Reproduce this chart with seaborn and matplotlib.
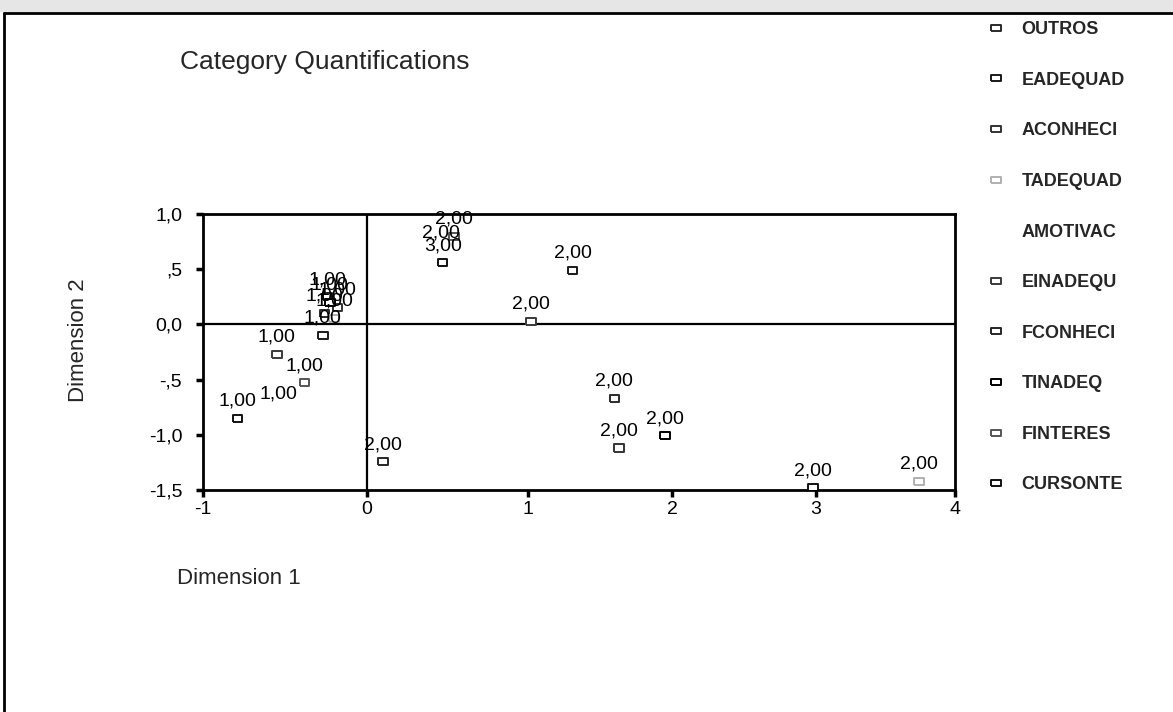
import matplotlib
matplotlib.use("Agg")
import matplotlib.pyplot as plt
import numpy as np
import pandas as pd
import seaborn as sns
from matplotlib.lines import Line2D
from matplotlib.patches import Rectangle

# Variables of the homogeneity analysis, in legend order
variables = ["OUTROS", "EADEQUAD", "ACONHECI", "TADEQUAD", "AMOTIVAC",
             "EINADEQU", "FCONHECI", "TINADEQ", "FINTERES", "CURSONTE"]

# One entry per category point
point_variable = ["OUTROS", "OUTROS",
                  "EADEQUAD", "EADEQUAD",
                  "ACONHECI", "ACONHECI",
                  "TADEQUAD", "TADEQUAD",
                  "AMOTIVAC", "AMOTIVAC",
                  "EINADEQU", "EINADEQU",
                  "FCONHECI", "FCONHECI",
                  "TINADEQ", "TINADEQ",
                  "FINTERES", "FINTERES",
                  "CURSONTE", "CURSONTE", "CURSONTE"]
point_category = [1, 2,
                  1, 2,
                  1, 2,
                  1, 2,
                  1, 2,
                  1, 2,
                  1, 2,
                  1, 2,
                  1, 2,
                  1, 2, 3]
dim1 = [-0.26, 1.60,
        -0.27, 1.31,
        -0.18, 1.63,
        -0.20, 3.74,
        -0.54, 0.46,
        -0.55, 1.02,
        -0.24, 0.10,
        -0.226, 1.95,
        -0.38, 0.54,
        -0.79, 2.98, 0.47]
dim2 = [0.10, -0.67,
        -0.10, 0.49,
        0.155, -1.12,
        0.055, -1.42,
        -0.78, 0.67,
        -0.27, 0.03,
        0.25, -1.245,
        0.20, -1.01,
        -0.53, 0.80,
        -0.85, -1.48, 0.56]

# Axis ticks
x_ticks = [-1, 0, 1, 2, 3, 4]
x_tick_labels = ["-1", "0", "1", "2", "3", "4"]
y_ticks = [1.0, 0.5, 0.0, -0.5, -1.0, -1.5]
y_tick_labels = ["1,0", ",5", "0,0", "-,5", "-1,0", "-1,5"]

# Outline colour of each variable's markers
marker_colors = {
    "OUTROS": "#2a2a2a",
    "EADEQUAD": "#1a1a1a",
    "ACONHECI": "#333333",
    "TADEQUAD": "#b0b0b0",
    "AMOTIVAC": "#ffffff",
    "EINADEQU": "#3a3a3a",
    "FCONHECI": "#262626",
    "TINADEQ": "#000000",
    "FINTERES": "#555555",
    "CURSONTE": "#111111",
}

df = pd.DataFrame({"variable": point_variable, "category": point_category,
                   "dim1": dim1, "dim2": dim2})

sns.set_theme(style="white")
plt.rcParams["font.family"] = ["Liberation Sans", "DejaVu Sans"]

fig = plt.figure(figsize=(11.73, 7.12), dpi=100)
W, H = 1173, 712
ax = fig.add_axes([203 / W, 1 - 490 / H, (955 - 203) / W, (490 - 214) / H])

# Horizontal axis: unit widths shrink a little towards the right
x_knots = np.array([-1.0, 0.0, 1.0, 2.0, 3.0, 4.0])
x_pos = np.array([0.0, 164.0, 325.0, 469.0, 613.0, 752.0])


def _fwd(v):
    v = np.asarray(v, dtype=float)
    slope_lo = (x_pos[1] - x_pos[0]) / (x_knots[1] - x_knots[0])
    slope_hi = (x_pos[-1] - x_pos[-2]) / (x_knots[-1] - x_knots[-2])
    out = np.interp(v, x_knots, x_pos)
    out = np.where(v < x_knots[0], x_pos[0] + (v - x_knots[0]) * slope_lo, out)
    out = np.where(v > x_knots[-1], x_pos[-1] + (v - x_knots[-1]) * slope_hi, out)
    return out


def _inv(p):
    p = np.asarray(p, dtype=float)
    slope_lo = (x_knots[1] - x_knots[0]) / (x_pos[1] - x_pos[0])
    slope_hi = (x_knots[-1] - x_knots[-2]) / (x_pos[-1] - x_pos[-2])
    out = np.interp(p, x_pos, x_knots)
    out = np.where(p < x_pos[0], x_knots[0] + (p - x_pos[0]) * slope_lo, out)
    out = np.where(p > x_pos[-1], x_knots[-1] + (p - x_pos[-1]) * slope_hi, out)
    return out


ax.set_xscale("function", functions=(_fwd, _inv))

box_marker = [(-1.35, -1), (1.35, -1), (1.35, 1), (-1.35, 1), (-1.35, -1)]

ax.axhline(0, color="black", lw=1.6, zorder=1)
ax.axvline(0, color="black", lw=1.6, zorder=1)

sns.scatterplot(data=df, x="dim1", y="dim2", hue="variable",
                hue_order=variables, palette=marker_colors,
                marker=box_marker, s=48, linewidth=1.4,
                legend=False, ax=ax, zorder=3)
pts = ax.collections[-1]
pts.set_edgecolors(pts.get_facecolors())
pts.set_facecolors("white")

for _, row in df.iterrows():
    ax.annotate(f"{row['category']:.2f}".replace(".", ","),
                (row["dim1"], row["dim2"]), xytext=(0, 9),
                textcoords="offset points", ha="center", va="baseline",
                fontsize=14, color="black", zorder=4)

ax.set_xlim(-1, 4)
ax.set_ylim(-1.5, 1.0)
ax.set_xticks(x_ticks)
ax.set_xticklabels(x_tick_labels)
ax.xaxis.set_minor_locator(matplotlib.ticker.NullLocator())
ax.set_yticks(y_ticks)
ax.set_yticklabels(y_tick_labels)
ax.tick_params(bottom=True, left=True, direction="out", length=5, width=2.5,
               labelsize=14, color="black", labelcolor="black")
ax.tick_params(axis="y", pad=10)
ax.tick_params(axis="x", pad=3)
for sp in ax.spines.values():
    sp.set_visible(True)
    sp.set_color("black")
    sp.set_linewidth(2)

ax.set_xlabel("Dimension 1", fontsize=16, ha="left", va="center")
ax.xaxis.set_label_coords((177 - 203) / 752, (490 - 578) / 276)
ax.set_ylabel("Dimension 2", fontsize=16, ha="center", va="center")
ax.yaxis.set_label_coords((78 - 203) / 752, (490 - 340) / 276)

fig.text(180 / W, 1 - 62 / H, "Category Quantifications", fontsize=19,
         ha="left", va="center")

handles = [Line2D([], [], marker=box_marker, linestyle="none", markersize=6.5,
                  markerfacecolor="white", markeredgecolor=marker_colors[v],
                  markeredgewidth=1.4) for v in variables]
fig.legend(handles, variables, loc="upper left",
           bbox_to_anchor=(982 / W, 1 - 14 / H), frameon=False,
           prop={"size": 13, "weight": "bold"}, labelspacing=1.86,
           handlelength=0.8, handletextpad=1.0, borderaxespad=0)

# Page frame around the output
fig.add_artist(Rectangle((0, 1 - 12 / H), 1, 12 / H, transform=fig.transFigure,
                         facecolor="#e6e6e6", edgecolor="none", zorder=0))
fig.add_artist(Line2D([4 / W, 1], [1 - 13 / H, 1 - 13 / H],
                      transform=fig.transFigure, color="black", lw=2))
fig.add_artist(Line2D([4 / W, 4 / W], [0, 1 - 13 / H],
                      transform=fig.transFigure, color="black", lw=2))

fig.savefig("out.png", dpi=100, facecolor="white")
